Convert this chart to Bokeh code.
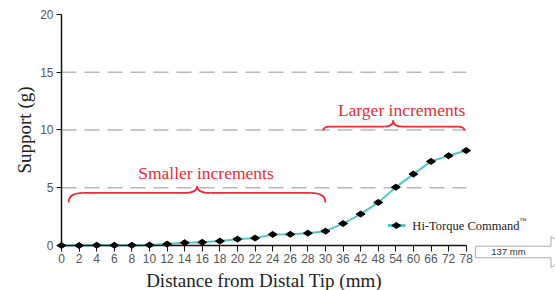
from bokeh.plotting import figure
from bokeh.models import Range1d, FixedTicker
from bokeh.embed import file_html
from bokeh.resources import INLINE
from bokeh.core.properties import value

# ---------------- data ----------------
distance_labels = ["0", "2", "4", "6", "8", "10", "12", "14", "16", "18", "20", "22",
                   "24", "26", "28", "30", "36", "42", "48", "54", "60", "66", "72", "78"]
support_g = [0.0, 0.0, 0.02, 0.02, 0.02, 0.04, 0.12, 0.24, 0.28, 0.38, 0.55, 0.64,
             0.96, 0.97, 1.07, 1.24, 1.90, 2.72, 3.73, 5.05, 6.18, 7.28, 7.77, 8.22]
y_ticks = [0, 5, 10, 15, 20]
grid_levels = [5, 10, 15]
series_name = "Hi-Torque Command"
bracket_texts = ["Smaller increments", "Larger increments"]
arrow_text = "137 mm"

x_idx = list(range(len(distance_labels)))
last = len(distance_labels) - 1

LINE = "#55c7ca"
RED = "#ee2a35"
SERIF = "Liberation Serif"
NARROW = "'Liberation Sans Narrow', 'Liberation Sans', sans-serif"

W, H = 555, 290
p = figure(width=W, height=H, x_range=Range1d(-3.4667, 28.074), y_range=Range1d(-3.896, 21.212),
           output_backend="svg", toolbar_location=None,
           min_border_left=0, min_border_right=0, min_border_top=0, min_border_bottom=0)
p.outline_line_color = None
p.xgrid.visible = False
p.ygrid.visible = False
p.background_fill_color = "white"
p.border_fill_color = "white"

# axes (placed at data zero, inside the frame)
xa = p.xaxis[0]
xa.fixed_location = 0
xa.ticker = FixedTicker(ticks=x_idx)
xa.major_label_overrides = {i: lab for i, lab in zip(x_idx, distance_labels)}
xa.bounds = (0, last)
xa.minor_tick_line_color = None
xa.major_tick_in = 0
xa.major_tick_out = 6
xa.major_label_standoff = 2
xa.axis_line_width = 1.5
xa.axis_line_color = "#111111"
xa.major_tick_line_color = "#111111"
xa.major_label_text_font = NARROW
xa.major_label_text_font_size = "12px"
xa.major_label_text_color = "#555555"
xa.axis_label = "Distance from Distal Tip (mm)"
xa.axis_label_text_font = SERIF
xa.axis_label_text_font_size = "19px"
xa.axis_label_text_font_style = "normal"
xa.axis_label_text_color = "#222222"
xa.axis_label_standoff = 4

ya = p.yaxis[0]
ya.fixed_location = 0
ya.ticker = FixedTicker(ticks=y_ticks)
ya.bounds = (0, 20)
ya.minor_tick_line_color = None
ya.major_tick_in = 0
ya.major_tick_out = 5
ya.major_label_standoff = 3
ya.axis_line_width = 1.5
ya.axis_line_color = "#111111"
ya.major_tick_line_color = "#111111"
ya.major_label_text_font = NARROW
ya.major_label_text_font_size = "12px"
ya.major_label_text_color = "#555555"
ya.axis_label = "Support (g)"
ya.axis_label_text_font = SERIF
ya.axis_label_text_font_size = "19px"
ya.axis_label_text_font_style = "normal"
ya.axis_label_text_color = "#222222"
ya.axis_label_standoff = 2

# dashed grid lines
p.segment(x0=[0] * len(grid_levels), x1=[last] * len(grid_levels), y0=grid_levels, y1=grid_levels,
          line_color="#b8b8b8", line_width=1.5, line_dash="15 8")

# series
p.line(x_idx, support_g, line_color=LINE, line_width=2)
p.scatter(x_idx, support_g, marker="diamond", size=9, angle=1.5708,
          fill_color="black", line_color="black")

# braces
def brace(x0, x1, xm, y_end, y_flat, y_tip, dx, dm):
    p.quadratic(x0=[x0, xm - dm, xm + dm, x1], y0=[y_end, y_flat, y_flat, y_end],
                x1=[x0 + dx, xm, xm, x1 - dx], y1=[y_flat, y_tip, y_tip, y_flat],
                cx=[x0, xm, xm, x1], cy=[y_flat] * 4,
                line_color=RED, line_width=1.8)
    p.segment(x0=[x0 + dx, xm + dm], y0=[y_flat, y_flat], x1=[xm - dm, x1 - dx], y1=[y_flat, y_flat],
              line_color=RED, line_width=1.8)

brace(0.40, 15.0, 7.71, 3.72, 4.55, 5.13, 0.85, 0.75)
brace(14.87, 22.9, 18.85, 9.96, 10.30, 10.82, 0.4, 0.5)

p.text(x=[8.21, 19.33], y=[6.29, 11.71], text=bracket_texts, text_align="center",
       text_baseline="middle", text_color=RED, text_font=value(SERIF),
       text_font_size=value("17.5px"))

# legend
p.line([18.55, 19.55], [1.73, 1.73], line_color=LINE, line_width=3)
p.scatter([19.03], [1.73], marker="diamond", size=9, angle=1.5708, fill_color="black", line_color="black")
p.text(x=[19.94], y=[1.66], text=[series_name], text_align="left", text_baseline="middle",
       text_color="#222222", text_font=value(SERIF), text_font_size=value("12.5px"))
p.text(x=[26.03], y=[2.1], text=["\u2122"], text_align="left", text_baseline="middle",
       text_color="#222222", text_font=value(SERIF), text_font_size=value("7px"))

# "137 mm" arrow
p.patch(x=[23.52, 27.82, 27.82, 29.2, 27.82, 27.82, 23.52],
        y=[-0.06, -0.06, 0.78, -0.56, -1.90, -1.065, -1.065],
        fill_color="white", line_color="#a8a8a8", line_width=1)
p.text(x=[25.4], y=[-0.56], text=[arrow_text], text_align="center", text_baseline="middle",
       text_font=value(NARROW), text_font_size=value("9.5px"), text_color="#333333")

open("out.html", "w").write(file_html(p, INLINE))
